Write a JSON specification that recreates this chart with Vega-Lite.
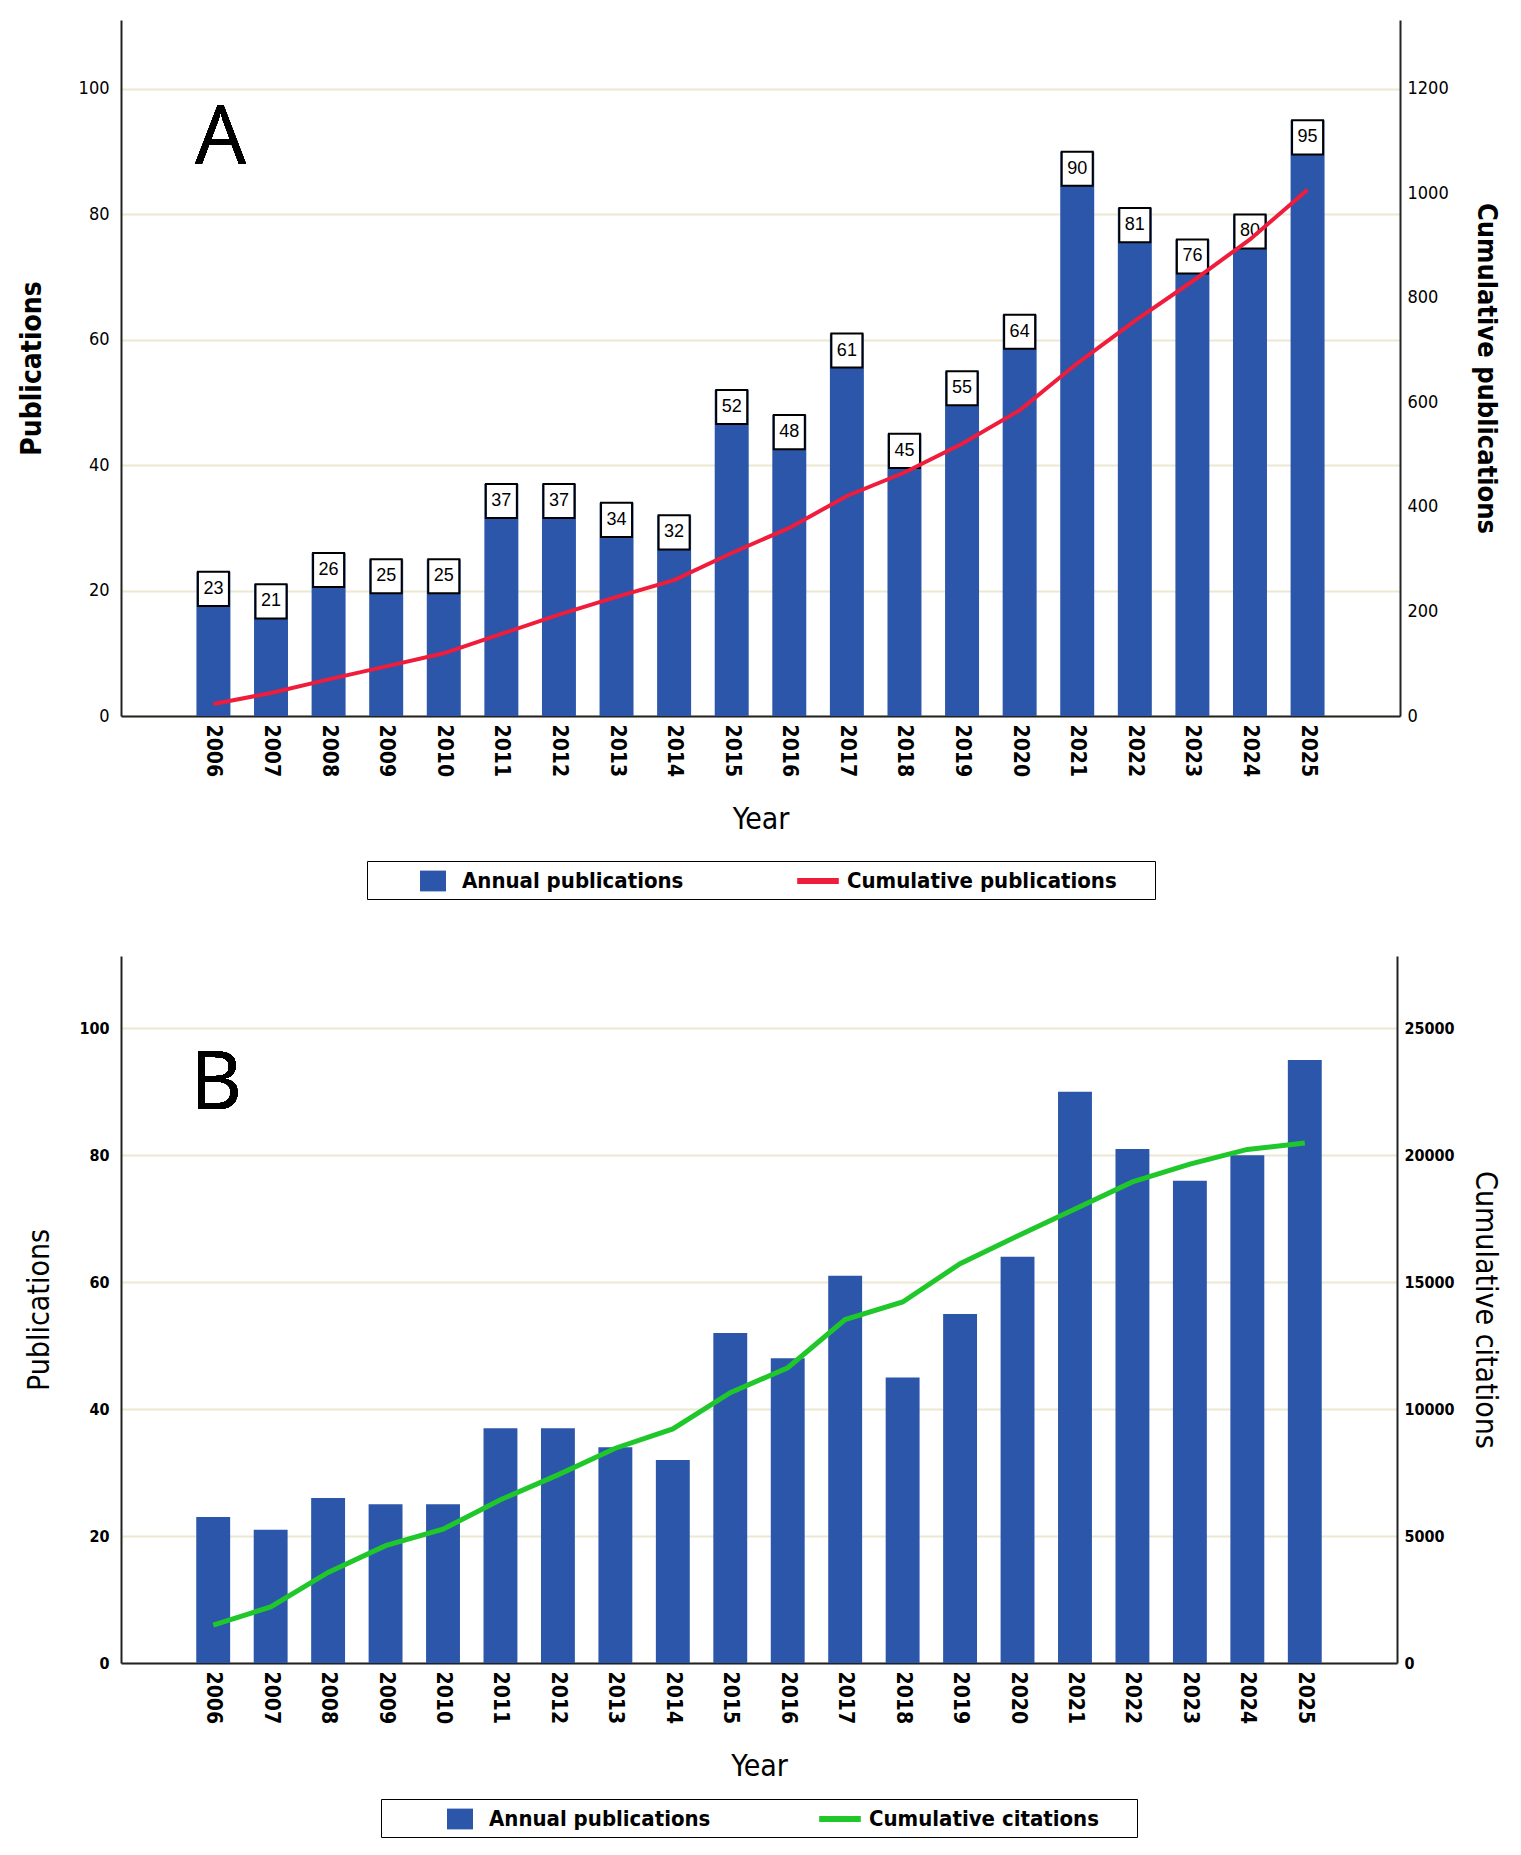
{
  "$schema": "https://vega.github.io/schema/vega-lite/v6.json",
  "description": "Annual publications with cumulative publications (A) and cumulative citations (B), 2006-2025",
  "background": "white",
  "padding": {"left": 18, "top": 20, "right": 12, "bottom": 0},
  "config": {
    "font": "Liberation Sans Narrow, DejaVu Sans Condensed, sans-serif",
    "view": {"stroke": null},
    "axis": {
      "ticks": false,
      "domainColor": "#222222",
      "domainWidth": 2,
      "labelColor": "black",
      "titleColor": "black",
      "gridColor": "#ece8d2",
      "gridWidth": 2
    },
    "legend": {
      "labelColor": "black",
      "labelLimit": 0,
      "layout": {"bottom": {"anchor": "middle"}}
    }
  },
  "datasets": {
    "pubs": [
      {"Year": "2006", "Annual": 23, "CumPub": 23, "CumCit": 1490},
      {"Year": "2007", "Annual": 21, "CumPub": 44, "CumCit": 2210},
      {"Year": "2008", "Annual": 26, "CumPub": 70, "CumCit": 3570},
      {"Year": "2009", "Annual": 25, "CumPub": 95, "CumCit": 4620},
      {"Year": "2010", "Annual": 25, "CumPub": 120, "CumCit": 5270},
      {"Year": "2011", "Annual": 37, "CumPub": 157, "CumCit": 6430},
      {"Year": "2012", "Annual": 37, "CumPub": 194, "CumCit": 7410},
      {"Year": "2013", "Annual": 34, "CumPub": 228, "CumCit": 8460},
      {"Year": "2014", "Annual": 32, "CumPub": 260, "CumCit": 9220},
      {"Year": "2015", "Annual": 52, "CumPub": 312, "CumCit": 10650},
      {"Year": "2016", "Annual": 48, "CumPub": 360, "CumCit": 11630},
      {"Year": "2017", "Annual": 61, "CumPub": 421, "CumCit": 13530},
      {"Year": "2018", "Annual": 45, "CumPub": 466, "CumCit": 14220},
      {"Year": "2019", "Annual": 55, "CumPub": 521, "CumCit": 15730},
      {"Year": "2020", "Annual": 64, "CumPub": 585, "CumCit": 16820},
      {"Year": "2021", "Annual": 90, "CumPub": 675, "CumCit": 17880},
      {"Year": "2022", "Annual": 81, "CumPub": 756, "CumCit": 18950},
      {"Year": "2023", "Annual": 76, "CumPub": 832, "CumCit": 19650},
      {"Year": "2024", "Annual": 80, "CumPub": 912, "CumCit": 20230},
      {"Year": "2025", "Annual": 95, "CumPub": 1007, "CumCit": 20480}
    ]
  },
  "columns": 1,
  "concat": [
    {
      "width": 1279,
      "height": 696,
      "data": {"name": "pubs"},
      "layer": [
        {
          "layer": [
            {
              "mark": {"type": "bar", "color": "#2b56a9"},
              "encoding": {
                "x": {
                  "field": "Year",
                  "type": "ordinal",
                  "scale": {
                    "domain": [" ", "2006", "2007", "2008", "2009", "2010", "2011", "2012", "2013", "2014", "2015", "2016", "2017", "2018", "2019", "2020", "2021", "2022", "2023", "2024", "2025", "  "],
                    "paddingInner": 0.41,
                    "paddingOuter": 0.31
                  },
                  "axis": {
                    "title": "Year",
                    "labelAngle": 90,
                    "labelFontWeight": "bold",
                    "labelFontSize": 21,
                    "labelPadding": 8,
                    "titleFontSize": 30,
                    "titleFontWeight": "normal",
                    "titlePadding": 28
                  }
                },
                "y": {
                  "field": "Annual",
                  "type": "quantitative",
                  "scale": {"domain": [0, 111], "nice": false},
                  "axis": {
                    "title": "Publications",
                    "values": [0, 20, 40, 60, 80, 100],
                    "grid": true,
                    "labelFontSize": 18,
                    "labelPadding": 12,
                    "titleFontSize": 28,
                    "titleFontWeight": "bold",
                    "titlePadding": 32
                  }
                },
                "color": {
                  "datum": "Annual publications",
                  "scale": {
                    "domain": ["Annual publications", "Cumulative publications"],
                    "range": ["#2b56a9", "#f01c3c"]
                  },
                  "legend": {
                    "title": null,
                    "orient": "bottom",
                    "direction": "horizontal",
                    "offset": 26,
                    "fillColor": "white",
                    "strokeColor": "black",
                    "padding": 7,
                    "labelFontSize": 22,
                    "labelFontWeight": "bold",
                    "labelOffset": 16,
                    "columnPadding": 75,
                    "symbolSize": 676,
                    "symbolOffset": 46,
                    "symbolStrokeWidth": 0,
                    "symbolOpacity": 1,
                    "symbolType": {"expr": "datum.value == 'Annual publications' ? 'M-1,-0.8H1V0.8H-1Z' : 'M-1.6,-0.23H1.6V0.23H-1.6Z'"},
                    "labelExpr": "datum.label == 'Cumulative publications' ? datum.label + '\u2800\u2800' : datum.label"
                  }
                }
              }
            },
            {
              "mark": {
                "type": "point",
                "shape": "M-1,0H1V2.2H-1Z",
                "size": 961,
                "filled": true,
                "fill": "white",
                "stroke": "black",
                "strokeWidth": 2,
                "opacity": 1
              },
              "encoding": {
                "x": {"field": "Year", "type": "ordinal"},
                "y": {"field": "Annual", "type": "quantitative"}
              }
            },
            {
              "mark": {
                "type": "text",
                "font": "Liberation Sans",
                "fontSize": 18,
                "dy": 17,
                "baseline": "middle",
                "color": "black"
              },
              "encoding": {
                "x": {"field": "Year", "type": "ordinal"},
                "y": {"field": "Annual", "type": "quantitative"},
                "text": {"field": "Annual", "type": "quantitative"}
              }
            },
            {
              "mark": {
                "type": "text",
                "text": "A",
                "font": "Open Sans",
                "fontSize": 80,
                "dx": 7,
                "baseline": "middle",
                "color": "black"
              },
              "encoding": {
                "x": {"datum": "2006", "type": "ordinal"},
                "y": {"datum": 92, "type": "quantitative"}
              }
            }
          ]
        },
        {
          "mark": {"type": "line", "strokeWidth": 4},
          "encoding": {
            "x": {"field": "Year", "type": "ordinal"},
            "y": {
              "field": "CumPub",
              "type": "quantitative",
              "scale": {"domain": [0, 1332], "nice": false},
              "axis": {
                "orient": "right",
                "title": "Cumulative publications",
                "format": "d",
                "values": [0, 200, 400, 600, 800, 1000, 1200],
                "grid": false,
                "labelFontSize": 18,
                "labelPadding": 7,
                "titleFontSize": 27,
                "titleFontWeight": "bold",
                "titlePadding": 23
              }
            },
            "color": {"datum": "Cumulative publications"}
          }
        }
      ],
      "resolve": {"scale": {"y": "independent"}}
    },
    {
      "width": 1276,
      "height": 707,
      "data": {"name": "pubs"},
      "layer": [
        {
          "layer": [
            {
              "mark": {"type": "bar", "color": "#2b56a9"},
              "encoding": {
                "x": {
                  "field": "Year",
                  "type": "ordinal",
                  "scale": {
                    "domain": [" ", "2006", "2007", "2008", "2009", "2010", "2011", "2012", "2013", "2014", "2015", "2016", "2017", "2018", "2019", "2020", "2021", "2022", "2023", "2024", "2025", "  "],
                    "paddingInner": 0.41,
                    "paddingOuter": 0.31
                  },
                  "axis": {
                    "title": "Year",
                    "labelAngle": 90,
                    "labelFontWeight": "bold",
                    "labelFontSize": 21,
                    "labelPadding": 8,
                    "titleFontSize": 30,
                    "titleFontWeight": "normal",
                    "titlePadding": 28
                  }
                },
                "y": {
                  "field": "Annual",
                  "type": "quantitative",
                  "scale": {"domain": [0, 111.4], "nice": false},
                  "axis": {
                    "title": "Publications",
                    "values": [0, 20, 40, 60, 80, 100],
                    "grid": true,
                    "labelFontSize": 16,
                    "labelFontWeight": "bold",
                    "labelPadding": 12,
                    "titleFontSize": 30,
                    "titleFontWeight": "normal",
                    "titlePadding": 24
                  }
                },
                "color": {
                  "datum": "Annual publications",
                  "scale": {
                    "domain": ["Annual publications", "Cumulative citations"],
                    "range": ["#2b56a9", "#1fc72b"]
                  },
                  "legend": {
                    "title": null,
                    "orient": "bottom",
                    "direction": "horizontal",
                    "offset": 17,
                    "fillColor": "white",
                    "strokeColor": "black",
                    "padding": 7,
                    "labelFontSize": 22,
                    "labelFontWeight": "bold",
                    "labelOffset": 16,
                    "columnPadding": 57,
                    "symbolSize": 676,
                    "symbolOffset": 59,
                    "symbolStrokeWidth": 0,
                    "symbolOpacity": 1,
                    "symbolType": {"expr": "datum.value == 'Annual publications' ? 'M-1,-0.8H1V0.8H-1Z' : 'M-1.6,-0.23H1.6V0.23H-1.6Z'"},
                    "labelExpr": "datum.label == 'Cumulative citations' ? datum.label + '\u2800\u2800' : datum.label"
                  }
                }
              }
            },
            {
              "mark": {
                "type": "text",
                "text": "B",
                "font": "Open Sans",
                "fontSize": 80,
                "dx": 3,
                "baseline": "middle",
                "color": "black"
              },
              "encoding": {
                "x": {"datum": "2006", "type": "ordinal"},
                "y": {"datum": 91, "type": "quantitative"}
              }
            }
          ]
        },
        {
          "mark": {"type": "line", "strokeWidth": 5},
          "encoding": {
            "x": {"field": "Year", "type": "ordinal"},
            "y": {
              "field": "CumCit",
              "type": "quantitative",
              "scale": {"domain": [0, 27850], "nice": false},
              "axis": {
                "orient": "right",
                "title": "Cumulative citations",
                "format": "d",
                "values": [0, 5000, 10000, 15000, 20000, 25000],
                "grid": false,
                "labelFontSize": 16,
                "labelFontWeight": "bold",
                "labelPadding": 7,
                "titleFontSize": 30,
                "titleFontWeight": "normal",
                "titlePadding": 15
              }
            },
            "color": {"datum": "Cumulative citations"}
          }
        }
      ],
      "resolve": {"scale": {"y": "independent"}}
    }
  ],
  "spacing": 56,
  "resolve": {
    "scale": {"color": "independent", "x": "independent"},
    "legend": {"color": "independent"},
    "axis": {"x": "independent"}
  }
}
